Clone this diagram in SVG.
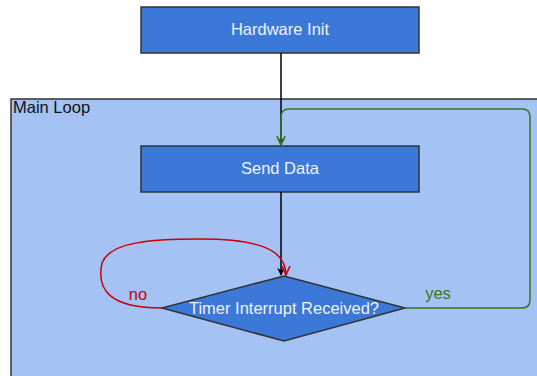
<svg xmlns="http://www.w3.org/2000/svg" width="537" height="376" viewBox="0 0 537 376">
  <style>
    text { font-family: "Liberation Sans", Arial, sans-serif; font-size: 16.5px; }
    .node { fill: #3c78d8; stroke: #333333; stroke-width: 1.5; }
    .label { fill: #eef3fc; text-anchor: middle; }
    .edge { fill: none; stroke-width: 1.5; }
  </style>
  <defs>
    <marker id="arrowBlack" viewBox="0 0 10 10" refX="9" refY="5" markerWidth="8" markerHeight="8" orient="auto" markerUnits="userSpaceOnUse">
      <path d="M0,0 L10,5 L0,10 L3,5 Z" fill="#000000"/>
    </marker>
    <marker id="arrowRed" viewBox="0 0 10 10" refX="9" refY="5" markerWidth="10" markerHeight="10" orient="auto" markerUnits="userSpaceOnUse">
      <path d="M0,1 L9,5 L0,9" fill="none" stroke="#cc0000" stroke-width="1.5"/>
    </marker>
    <marker id="arrowGreen" viewBox="0 0 10 10" refX="9" refY="5" markerWidth="10" markerHeight="10" orient="auto" markerUnits="userSpaceOnUse">
      <path d="M0,1 L9,5 L0,9" fill="none" stroke="#38761d" stroke-width="1.5"/>
    </marker>
  </defs>

  <rect width="537" height="376" fill="#ffffff"/>

  <!-- Main Loop cluster -->
  <g id="cluster_main_loop">
    <rect x="11" y="99" width="540" height="290" fill="#a4c2f4" stroke="#333333" stroke-width="1.5"/>
    <text x="13" y="113" fill="#111111">Main Loop</text>
  </g>

  <g id="hardware_init">
    <rect class="node" x="141" y="7" width="278" height="46"/>
    <text class="label" x="280" y="35">Hardware Init</text>
  </g>

  <g id="send_data">
    <rect class="node" x="141" y="146" width="278" height="46"/>
    <text class="label" x="280" y="174">Send Data</text>
  </g>

  <g id="timer_check">
    <polygon class="node" points="284,276 405,308 284,341 162,308"/>
    <text class="label" x="284" y="313.5">Timer Interrupt Received?</text>
  </g>

  <g id="connectors">
    <path class="edge" stroke="#000000" d="M281,53 L281,145" marker-end="url(#arrowBlack)"/>
    <path class="edge" stroke="#000000" d="M281,192 L281,275" marker-end="url(#arrowBlack)"/>
    <path class="edge" stroke="#cc0000" d="M162,308 C110,308 96,290 102,263 C110,242 150,239 200,239 C255,239 286,248 286,275" marker-end="url(#arrowRed)"/>
    <path class="edge" stroke="#38761d" d="M405,308 L522,308 Q530,308 530,300 L530,117 Q530,109 522,109 L289,109 Q281,109 281,117 L281,145" marker-end="url(#arrowGreen)"/>
    <text x="138" y="300" fill="#cc0000" text-anchor="middle">no</text>
    <text x="438" y="299" fill="#38761d" text-anchor="middle">yes</text>
  </g>
</svg>
